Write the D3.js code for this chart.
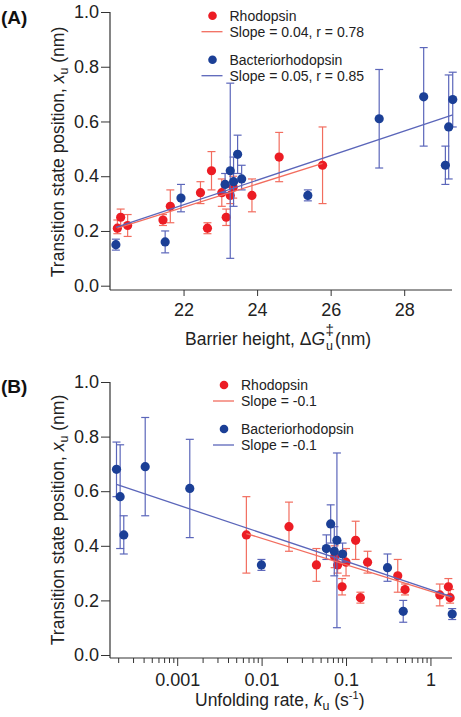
<!DOCTYPE html>
<html><head><meta charset="utf-8">
<script src="https://cdn.jsdelivr.net/npm/d3@7"></script>
<style>body{margin:0;background:#fff}svg{display:block;font-family:"Liberation Sans",Arial,sans-serif}</style>
</head><body>
<svg id="c" width="461" height="717"></svg>
<script>
// ---- data ----
const redBarrier = [20.2, 20.29, 20.48, 21.44, 21.64, 22.46, 22.65, 22.76, 23.04, 23.16, 23.27, 23.35, 23.86, 24.6, 25.78];
const redRate    = [1.71, 1.63, 1.29, 0.50, 0.41, 0.18, 0.148, 0.13, 0.10, 0.0898, 0.0795, 0.0733, 0.0446, 0.0211, 0.0066];
const redXu      = [0.21, 0.25, 0.22, 0.24, 0.29, 0.34, 0.21, 0.42, 0.34, 0.25, 0.33, 0.36, 0.33, 0.47, 0.44];
const redLo      = [0.19, 0.22, 0.18, 0.22, 0.23, 0.30, 0.19, 0.35, 0.29, 0.22, 0.30, 0.32, 0.27, 0.38, 0.30];
const redHi      = [0.24, 0.28, 0.26, 0.26, 0.35, 0.38, 0.23, 0.49, 0.39, 0.28, 0.36, 0.40, 0.39, 0.56, 0.58];

const blueBarrier = [20.16, 21.5, 21.93, 23.13, 23.27, 23.36, 23.47, 23.58, 25.38, 27.32, 28.53, 29.12, 29.21, 29.32];
const blueRate    = [1.81, 0.476, 0.31, 0.091, 0.078, 0.0726, 0.0658, 0.0585, 0.00995, 0.00141, 0.000418, 0.000233, 0.000211, 0.000191];
const blueXu      = [0.15, 0.16, 0.32, 0.37, 0.42, 0.38, 0.48, 0.39, 0.33, 0.61, 0.69, 0.44, 0.58, 0.68];
const blueLo      = [0.13, 0.12, 0.27, 0.34, 0.10, 0.29, 0.41, 0.35, 0.31, 0.43, 0.51, 0.37, 0.39, 0.58];
const blueHi      = [0.17, 0.20, 0.37, 0.41, 0.74, 0.47, 0.55, 0.44, 0.35, 0.79, 0.87, 0.51, 0.77, 0.78];

// fitted lines (endpoints)
const fitARedX = [20.2, 25.78],   fitARedY = [0.21, 0.447];
const fitABlueX = [20.16, 29.32], fitABlueY = [0.213, 0.624];
const fitBRedX = [0.0066, 1.71],  fitBRedY = [0.445, 0.211];
const fitBBlueX = [0.000191, 1.81], fitBBlueY = [0.625, 0.213];

const yTicks = [0, 0.2, 0.4, 0.6, 0.8, 1.0];
const xTicksA = [22, 24, 26, 28];
const xTicksB = [0.001, 0.01, 0.1, 1];

const legendA = ["Rhodopsin", "Slope = 0.04, r = 0.78", "Bacteriorhodopsin", "Slope = 0.05, r = 0.85"];
const legendB = ["Rhodopsin", "Slope = -0.1", "Bacteriorhodopsin", "Slope = -0.1"];

// ---- styles ----
const RED = "#ec1c24", RED_L = "#f26d5f";
const BLUE = "#1b3f96", BLUE_L = "#5b66ba";
const AX = "#333";
const TITLE_FS = 17.5;

const svg = d3.select("#c");

function panel(cfg) {
  const g = svg.append("g");
  const x = cfg.x, y = cfg.y;
  const yAx = g.append("g").attr("transform", `translate(${cfg.left},0)`)
    .call(d3.axisLeft(y).tickValues(yTicks).tickFormat(d3.format(".1f")).tickSize(9).tickPadding(2));
  yAx.select(".domain").remove();
  yAx.selectAll("line").attr("stroke", AX);
  yAx.selectAll("text").attr("font-size", 18).attr("fill", "#222").attr("font-family", "Liberation Sans, Arial, sans-serif");
  g.append("line").attr("x1", cfg.left).attr("x2", cfg.left).attr("y1", y(1)).attr("y2", cfg.bottom).attr("stroke", AX).attr("stroke-width", 1.2);
  g.append("line").attr("x1", cfg.left).attr("x2", x.range()[1]).attr("y1", cfg.bottom).attr("y2", cfg.bottom).attr("stroke", AX).attr("stroke-width", 1.2);
  cfg.xAxis(g);

  const fitLine = (xs, ys, col) => g.append("line")
    .attr("x1", x(xs[0])).attr("y1", y(ys[0])).attr("x2", x(xs[1])).attr("y2", y(ys[1]))
    .attr("stroke", col).attr("stroke-width", 1.3);

  function series(xs, vals, lo, hi, errCol, col) {
    const sg = g.append("g");
    xs.forEach((xv, i) => {
      const px = x(xv);
      sg.append("line").attr("x1", px).attr("x2", px).attr("y1", y(lo[i])).attr("y2", y(hi[i])).attr("stroke", errCol).attr("stroke-width", 1.2);
      [lo[i], hi[i]].forEach(v => sg.append("line").attr("x1", px - 4).attr("x2", px + 4).attr("y1", y(v)).attr("y2", y(v)).attr("stroke", errCol).attr("stroke-width", 1.2));
    });
    return () => xs.forEach((xv, i) => sg.append("circle").attr("cx", x(xv)).attr("cy", y(vals[i])).attr("r", 4.6).attr("fill", col));
  }
  const dRed = series(cfg.redX, redXu, redLo, redHi, RED_L, RED);
  const dBlue = series(cfg.blueX, blueXu, blueLo, blueHi, BLUE_L, BLUE);
  fitLine(cfg.fitRX, cfg.fitRY, RED_L);
  fitLine(cfg.fitBX, cfg.fitBY, BLUE_L);
  dRed(); dBlue();

  // legend
  const L = cfg.legend, lx = cfg.legX, ly = cfg.legY;
  const lg = g.append("g").attr("font-size", 14).attr("fill", "#222");
  [[RED, RED_L], [BLUE, BLUE_L]].forEach((c, k) => {
    const y0 = ly + k * 44;
    lg.append("circle").attr("cx", lx + 11).attr("cy", y0).attr("r", 4.3).attr("fill", c[0]);
    lg.append("text").attr("x", lx + 28).attr("y", y0 + 5).text(L[k * 2]);
    lg.append("line").attr("x1", lx).attr("x2", lx + 21).attr("y1", y0 + 16).attr("y2", y0 + 16).attr("stroke", c[1]).attr("stroke-width", 1.3);
    lg.append("text").attr("x", lx + 28).attr("y", y0 + 21).text(L[k * 2 + 1]);
  });

  // y title
  const yt = g.append("text").attr("transform", `translate(${cfg.yTitleX},${cfg.yTitleY}) rotate(-90)`)
    .attr("text-anchor", "middle").attr("font-size", TITLE_FS).attr("fill", "#222");
  yt.append("tspan").text("Transition state position, ");
  yt.append("tspan").attr("font-style", "italic").text("x");
  yt.append("tspan").attr("font-size", 12.5).attr("dy", 4).text("u");
  yt.append("tspan").attr("dy", -4).text(" (nm)");

  g.append("text").attr("x", 1).attr("y", cfg.labY).attr("font-size", 19).attr("font-weight", "bold").attr("fill", "#111").text(cfg.label);
  return g;
}

// Panel A
const xA = d3.scaleLinear().domain([20, 29.3]).range([110, 452]);
const yA = d3.scaleLinear().domain([0, 1]).range([285.7, 12]);
panel({
  x: xA, y: yA, left: 110, bottom: 290,
  redX: redBarrier, blueX: blueBarrier,
  fitRX: fitARedX, fitRY: fitARedY, fitBX: fitABlueX, fitBY: fitABlueY,
  legend: legendA, legX: 201.5, legY: 15.7,
  yTitleX: 64, yTitleY: 152, labY: 24, label: "(A)",
  xAxis: g => {
    const ax = g.append("g").attr("transform", "translate(0,290)")
      .call(d3.axisBottom(xA).tickValues(xTicksA).tickFormat(d3.format("d")).tickSize(6).tickPadding(7));
    ax.select(".domain").remove();
    ax.selectAll("line").attr("stroke", AX);
    ax.selectAll("text").attr("font-size", 18).attr("fill", "#222").attr("font-family", "Liberation Sans, Arial, sans-serif");
    const base = 345;
    const t = g.append("text").attr("x", 185).attr("y", base).attr("font-size", TITLE_FS).attr("fill", "#222");
    t.append("tspan").text("Barrier height, Δ");
    t.append("tspan").attr("font-style", "italic").text("G");
    const end = 185 + t.node().getComputedTextLength();
    g.append("text").attr("x", end + 0.5).attr("y", base - 10).attr("font-size", 15).attr("fill", "#222").text("‡");
    g.append("text").attr("x", end + 1).attr("y", base + 5).attr("font-size", 12.5).attr("fill", "#222").text("u");
    g.append("text").attr("x", end + 10).attr("y", base).attr("font-size", TITLE_FS).attr("fill", "#222").text("(nm)");
  }
});

// Panel B
const xB = d3.scaleLog().domain([1.6e-4, 1.8]).range([110, 452]);
const yB = d3.scaleLinear().domain([0, 1]).range([655, 382]);
const minorB = [];
[1e-4, 1e-3, 1e-2, 1e-1, 1].forEach(dec => { for (let m = 2; m <= 9; m++) { const v = dec * m; if (v >= 1.6e-4 && v <= 1.8) minorB.push(v); } });
panel({
  x: xB, y: yB, left: 110, bottom: 658,
  redX: redRate, blueX: blueRate,
  fitRX: fitBRedX, fitRY: fitBRedY, fitBX: fitBBlueX, fitBY: fitBBlueY,
  legend: legendB, legX: 213, legY: 385,
  yTitleX: 64, yTitleY: 520, labY: 393, label: "(B)",
  xAxis: g => {
    const ax = g.append("g").attr("transform", "translate(0,658)")
      .call(d3.axisBottom(xB).tickValues(xTicksB).tickFormat(d => String(d)).tickSize(8).tickPadding(7));
    ax.select(".domain").remove();
    ax.selectAll("line").attr("stroke", AX);
    ax.selectAll("text").attr("font-size", 18).attr("fill", "#222").attr("font-family", "Liberation Sans, Arial, sans-serif");
    const mn = g.append("g").attr("transform", "translate(0,658)")
      .call(d3.axisBottom(xB).tickValues(minorB).tickFormat("").tickSize(5));
    mn.select(".domain").remove();
    mn.selectAll("line").attr("stroke", AX);
    const t = g.append("text").attr("x", 195).attr("y", 706).attr("font-size", TITLE_FS).attr("fill", "#222");
    t.append("tspan").text("Unfolding rate, ");
    t.append("tspan").attr("font-style", "italic").text("k");
    t.append("tspan").attr("font-size", 12.5).attr("dy", 4).text("u");
    t.append("tspan").attr("dy", -4).text(" (s");
    t.append("tspan").attr("font-size", 11).attr("dy", -7).text("-1");
    t.append("tspan").attr("dy", 7).text(")");
  }
});
</script>
</body></html>
